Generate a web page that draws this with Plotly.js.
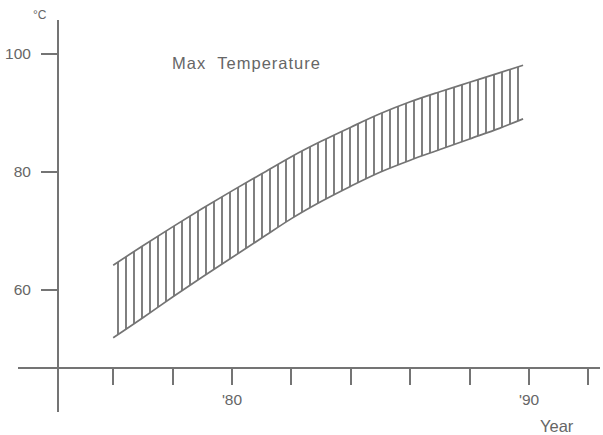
<!DOCTYPE html>
<html>
<head>
<meta charset="utf-8">
<script src="https://cdn.plot.ly/plotly-3.0.1.min.js"></script>
<style>
html,body{margin:0;padding:0;background:#fff;}
#chart{width:603px;height:435px;}
.spaced text{letter-spacing:1px;}
</style>
</head>
<body>
<div id="chart"></div>
<script>
// Data
const years = [1976, 1977, 1978, 1979, 1980, 1981, 1982, 1983, 1984, 1985, 1986, 1987, 1988, 1989, 1989.8];
const maxHigh = [64.2, 67.5, 70.7, 73.8, 76.8, 79.7, 82.6, 85.2, 87.6, 89.9, 91.9, 93.6, 95.2, 96.8, 98.1];
const maxLow  = [51.9, 55.3, 58.8, 62.2, 65.5, 68.8, 72.1, 75.0, 77.6, 80.0, 82.0, 83.8, 85.6, 87.4, 89.0];
const xTickVals = [1976, 1978, 1980, 1982, 1984, 1986, 1988, 1990, 1992];
const xTickText = ["", "", "'80", "", "", "", "", "'90", ""];
const yTickVals = [60, 80, 100];
const yTickText = ["60", "80", "100"];

const ink = '#666666';
const lineInk = '#747474';
const font = {family: 'Liberation Sans, Arial, sans-serif', size: 15.5, color: ink};

const traces = [
  {x: years, y: maxLow, mode: 'lines', line: {color: lineInk, width: 1.7, shape: 'spline'},
   showlegend: false, hoverinfo: 'skip'},
  {x: years, y: maxHigh, mode: 'lines', line: {color: lineInk, width: 1.7, shape: 'spline'},
   fill: 'tonexty', fillcolor: 'rgba(0,0,0,0)',
   fillpattern: {shape: '|', size: 8, solidity: 0.24, fgcolor: '#7a7a7a', bgcolor: 'rgba(255,255,255,0)'},
   showlegend: false, hoverinfo: 'skip'}
];

const layout = {
  width: 603, height: 435,
  margin: {l: 18, r: 3, t: 20, b: 23},
  paper_bgcolor: '#fff', plot_bgcolor: '#fff',
  showlegend: false,
  font: font,
  xaxis: {
    range: [1972.795, 1992.39], showgrid: false, zeroline: false,
    showline: true, linecolor: lineInk, linewidth: 1.7,
    anchor: 'free', position: 0.1148,
    tickmode: 'array', tickvals: xTickVals, ticktext: xTickText,
    ticks: 'outside', ticklen: 16, tickwidth: 2, tickcolor: lineInk,
    ticklabelstandoff: 2,
    tickfont: font
  },
  yaxis: {
    range: [39.32, 105.76], showgrid: false, zeroline: false,
    showline: true, linecolor: lineInk, linewidth: 1.7,
    anchor: 'free', position: 0.067,
    tickmode: 'array', tickvals: yTickVals, ticktext: yTickText,
    ticks: 'outside', ticklen: 16, tickwidth: 1.7, tickcolor: lineInk,
    ticklabelstandoff: 7,
    tickfont: font
  },
  annotations: [
    {text: 'Max&nbsp;&nbsp;Temperature', xref: 'paper', yref: 'paper', x: 0.392, y: 0.890,
     showarrow: false, xanchor: 'center', yanchor: 'middle', font: {family: font.family, size: 16.5, color: ink}},
    {text: '°C', xref: 'paper', yref: 'paper', x: 0.0378, y: 1.0128,
     showarrow: false, xanchor: 'center', yanchor: 'middle', font: {family: font.family, size: 12, color: ink}},
    {text: 'Year', xref: 'paper', yref: 'paper', x: 0.926, y: -0.0357,
     showarrow: false, xanchor: 'center', yanchor: 'middle', font: {family: font.family, size: 16.5, color: ink}}
  ]
};

Plotly.newPlot('chart', traces, layout, {staticPlot: true, displayModeBar: false}).then(function () {
  const ann = document.querySelectorAll('#chart .annotation');
  if (ann.length) ann[0].classList.add('spaced');
});
</script>
</body>
</html>
